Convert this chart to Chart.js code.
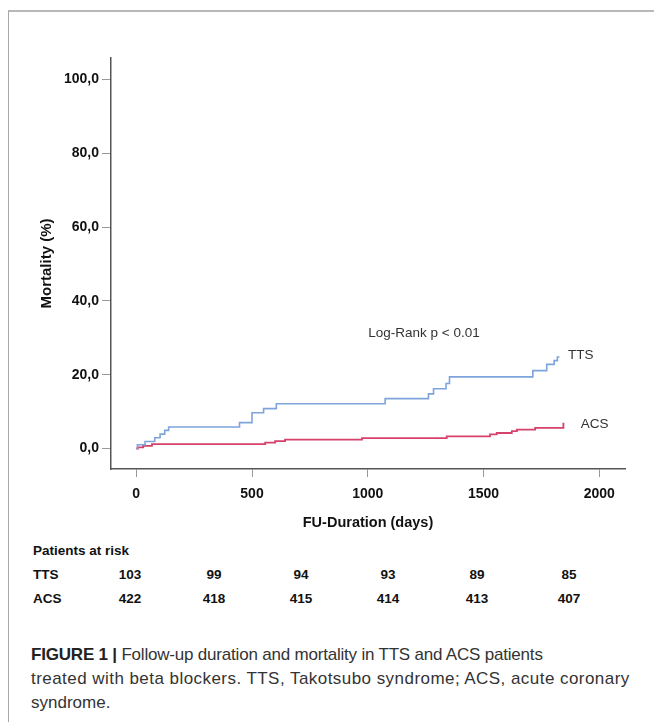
<!DOCTYPE html>
<html>
<head>
<meta charset="utf-8">
<script src="https://cdn.jsdelivr.net/npm/chart.js@4"></script>
<style>
  html, body { margin: 0; padding: 0; background: #fff; }
  body { width: 654px; height: 722px; position: relative; overflow: hidden; font-family: "Liberation Sans", Arial, sans-serif; }
  .frame { position: absolute; left: 8px; top: 10px; right: 0; bottom: 0; border-top: 2px solid #b8b8b8; border-left: 1px solid #a8a8a8; }
  #chart { position: absolute; left: 0; top: 0; }
  .risk { position: absolute; font-weight: bold; font-size: 13.5px; color: #111; white-space: nowrap; }
  .num { transform: translate(-50%, -50%); }
  .lbl { transform: translateY(-50%); }
  .caption { position: absolute; left: 31px; top: 643px; font-size: 17px; line-height: 24px; color: #333; white-space: nowrap; }
  .caption b { color: #222; }
  .l1 { letter-spacing: -0.2px; }
  .l2 { letter-spacing: 0.45px; }
</style>
</head>
<body>
<div class="frame"></div>
<canvas id="chart" width="654" height="540"></canvas>
<div id="riskTable"></div>
<div class="caption"><span class="l1"><b>FIGURE 1 |</b> Follow-up duration and mortality in TTS and ACS patients</span><br><span class="l2">treated with beta blockers. TTS, Takotsubo syndrome; ACS, acute coronary</span><br>syndrome.</div>
<script>
// --- DATA ---
// Kaplan-Meier mortality steps (days, %)
const ttsDays = [0, 5, 38, 80, 103, 123, 140, 446, 500, 550, 605, 1075, 1262, 1284, 1338, 1353, 1713, 1773, 1805, 1819, 1828];
const ttsMort = [0, 1.0, 1.9, 2.9, 3.9, 4.9, 5.8, 7.0, 9.7, 10.8, 12.1, 13.5, 14.8, 16.2, 17.6, 19.4, 21.1, 22.8, 23.8, 24.8, 24.8];
const acsDays = [0, 7, 30, 68, 557, 600, 643, 975, 1341, 1528, 1557, 1622, 1644, 1723, 1845, 1845];
const acsMort = [0, 0.3, 0.7, 1.2, 1.6, 2.0, 2.4, 2.8, 3.3, 3.8, 4.2, 4.7, 5.1, 5.6, 5.6, 7.0];

const xTicks = [0, 500, 1000, 1500, 2000];
const yTicks = [0, 20, 40, 60, 80, 100];

// Patients at risk
const riskGroups = ['TTS', 'ACS'];
const riskTTS = [103, 99, 94, 93, 89, 85];
const riskACS = [422, 418, 415, 414, 413, 407];

const fontFamily = '"Liberation Sans", Arial, sans-serif';

function toPoints(xs, ys) {
    return xs.map((x, i) => ({ x: x, y: ys[i] }));
}

// text annotations placed in data coordinates
const notes = [
    { text: 'Log-Rank p < 0.01', x: 1002, y: 31.3 },
    { text: 'TTS', x: 1865, y: 25.3 },
    { text: 'ACS', x: 1920, y: 6.6 }
];

const notesPlugin = {
    id: 'notes',
    afterDatasetsDraw(chart) {
        const ctx = chart.ctx;
        const xs = chart.scales.x, ys = chart.scales.y;
        ctx.save();
        ctx.font = '13.5px ' + fontFamily;
        ctx.fillStyle = '#333';
        ctx.textAlign = 'left';
        ctx.textBaseline = 'middle';
        notes.forEach(n => ctx.fillText(n.text, xs.getPixelForValue(n.x), ys.getPixelForValue(n.y)));
        ctx.restore();
    }
};

new Chart(document.getElementById('chart').getContext('2d'), {
    type: 'line',
    data: {
        datasets: [
            {
                label: 'TTS',
                data: toPoints(ttsDays, ttsMort),
                borderColor: '#7ea4dc',
                borderWidth: 1.6,
                stepped: true,
                pointRadius: 0,
                fill: false
            },
            {
                label: 'ACS',
                data: toPoints(acsDays, acsMort),
                borderColor: '#d6406a',
                borderWidth: 1.8,
                stepped: true,
                pointRadius: 0,
                fill: false
            }
        ]
    },
    options: {
        responsive: false,
        animation: false,
        devicePixelRatio: 1,
        layout: { padding: { top: 58, right: 29, left: 0, bottom: 0 } },
        plugins: { legend: { display: false }, tooltip: { enabled: false } },
        scales: {
            x: {
                type: 'linear',
                min: -109,
                max: 2111,
                afterBuildTicks: s => { s.ticks = xTicks.map(v => ({ value: v })); },
                afterFit: s => { s.height = 71; },
                border: { color: '#555', width: 1.5 },
                grid: { drawOnChartArea: false, drawTicks: true, tickLength: 8, color: '#999' },
                ticks: { color: '#111', padding: 9, maxRotation: 0, font: { family: fontFamily, size: 14, weight: 'bold' },
                         callback: v => String(v) },
                title: { display: true, text: 'FU-Duration (days)', color: '#111', padding: { top: 0, bottom: 8.6 }, font: { family: fontFamily, size: 14.5, weight: 'bold' } }
            },
            y: {
                type: 'linear',
                min: -5.56,
                max: 105.8,
                afterBuildTicks: s => { s.ticks = yTicks.map(v => ({ value: v })); },
                afterFit: s => { s.width = 111; },
                border: { color: '#555', width: 1.5 },
                grid: { drawOnChartArea: false, drawTicks: true, tickLength: 9, color: '#999' },
                ticks: { color: '#111', padding: 3, font: { family: fontFamily, size: 14, weight: 'bold' },
                         callback: v => v.toFixed(1).replace('.', ',') },
                title: { display: true, text: 'Mortality (%)', color: '#111', padding: { top: 38, bottom: 0 }, font: { family: fontFamily, size: 15, weight: 'bold' } }
            }
        }
    },
    plugins: [notesPlugin]
});

// --- RISK TABLE ---
const riskCols = [130, 214, 301, 388, 477, 569];
const table = document.getElementById('riskTable');
function addText(text, cls, left, top) {
    const el = document.createElement('div');
    el.className = 'risk ' + cls;
    el.textContent = text;
    el.style.left = left + 'px';
    el.style.top = top + 'px';
    table.appendChild(el);
}
addText('Patients at risk', 'lbl', 33, 550);
[riskTTS, riskACS].forEach((row, r) => {
    const top = 574 + r * 24;
    addText(riskGroups[r], 'lbl', 33, top);
    row.forEach((n, i) => addText(String(n), 'num', riskCols[i], top));
});
</script>
</body>
</html>
